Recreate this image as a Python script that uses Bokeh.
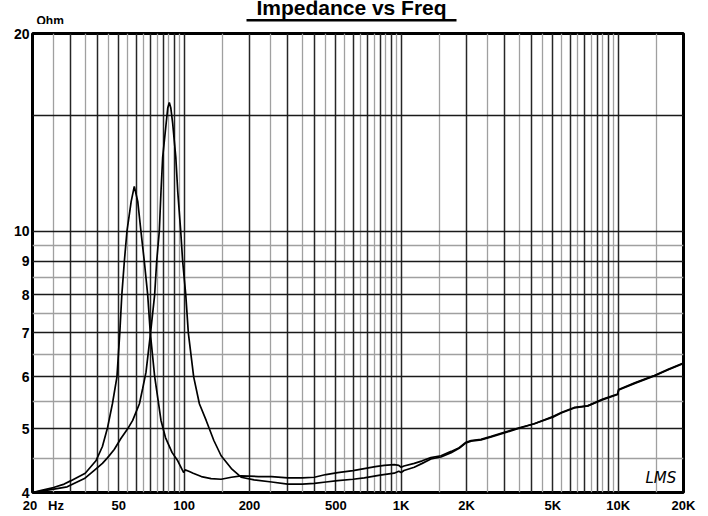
import math
from bokeh.plotting import figure
from bokeh.layouts import column
from bokeh.models import FixedTicker, Grid, Label, BoxAnnotation, Range1d
from bokeh.embed import file_html
from bokeh.resources import INLINE

# ---------------- data ----------------
freq_a = [20, 22, 25, 28, 30.1, 35, 39.2, 42, 44.4, 46.7, 49, 50.5, 51.6, 53, 54.5, 57, 58.9,
          61.1, 63.2, 65.5, 67.9, 69.8, 73.1, 78.2, 82, 88, 93.4, 98, 99.5, 101, 105, 110, 120,
          133, 148, 165, 183, 220, 253, 300, 350, 398, 450, 510, 600, 676, 760, 836, 929, 975,
          1000, 1030, 1149, 1250, 1371, 1525, 1700, 1850, 1990, 2100, 2333, 2600, 2987, 3500,
          4106, 5000, 5500, 6277, 7240, 8500, 9950, 10050, 12000, 14670, 17000, 20000]
z_a = [4.0, 4.03, 4.07, 4.12, 4.17, 4.28, 4.47, 4.7, 5.03, 5.46, 6.0, 7.0, 8.0, 9.0, 10.0, 11.1, 11.7,
       11.1, 10.0, 9.0, 8.0, 7.0, 6.01, 5.15, 4.85, 4.6, 4.47, 4.33, 4.29, 4.33, 4.31, 4.28, 4.23,
       4.2, 4.19, 4.22, 4.24, 4.23, 4.23, 4.21, 4.21, 4.22, 4.26, 4.29, 4.32, 4.35, 4.38, 4.4, 4.41, 4.4,
       4.37, 4.39, 4.43, 4.47, 4.52, 4.55, 4.62, 4.68, 4.77, 4.8, 4.82, 4.87, 4.94, 5.02,
       5.09, 5.22, 5.3, 5.39, 5.42, 5.55, 5.65, 5.74, 5.88, 6.03, 6.16, 6.3]

freq_b = [20, 24.3, 28.9, 34.7, 38.4, 42, 44.4, 47.6, 51, 54.9, 57.9, 62.2, 64.3, 66.7, 70, 73.1,
          74.7, 76.8, 78.2, 79.6, 82.6, 84, 85.4, 86.8, 88.5, 91.5, 93.4, 96.4, 98.4, 101.7, 104.5,
          110.6, 117.5, 126.3, 137, 148, 165, 183, 210, 253, 300, 350, 398, 450, 510, 600, 676, 800,
          929, 975, 1000, 1030, 1149, 1250, 1371, 1525, 1700, 1850, 1990, 2100, 2333, 2600, 2987,
          3500, 4106, 5000, 5500, 6277, 7240, 8500, 9950, 10050, 12000, 14670, 17000, 20000]
z_b = [4.0, 4.04, 4.08, 4.2, 4.32, 4.43, 4.52, 4.65, 4.83, 5.0, 5.15, 5.46, 5.75, 6.1, 7.0, 8.0,
       9.0, 10.0, 11.5, 12.96, 14.6, 15.4, 15.7, 15.4, 14.6, 12.96, 11.5, 10.0, 9.0, 8.0, 7.0,
       6.0, 5.46, 5.15, 4.8, 4.55, 4.35, 4.22, 4.18, 4.15, 4.12, 4.12, 4.13, 4.15, 4.17, 4.19, 4.21, 4.25,
       4.28, 4.31, 4.29, 4.32, 4.37, 4.43, 4.5, 4.53, 4.6, 4.67, 4.76, 4.79, 4.81, 4.86, 4.93,
       5.01, 5.09, 5.21, 5.29, 5.38, 5.42, 5.54, 5.64, 5.73, 5.87, 6.02, 6.15, 6.29]

x_label_ticks = [20, 50, 100, 200, 500, 1000, 2000, 5000, 10000, 20000]
x_label_text = ["\u2007\u2007\u200720\u00a0\u00a0\u00a0Hz", "50", "100", "200", "500",
                "1K", "2K", "5K", "10K", "20K"]
y_label_ticks = [4, 5, 6, 7, 8, 9, 10, 20]
y_label_text = ["4", "5", "6", "7", "8", "9", "10", "20"]

x_major_grid = [m * 10 ** d for d in (1, 2, 3) for m in range(1, 10) if 20 < m * 10 ** d < 20000] + [10000]
x_minor_grid = [(m + 0.5) * 10 ** d for d in (1, 2, 3, 4) for m in range(1, 10) if 20 < (m + 0.5) * 10 ** d < 20000]
y_major_grid = [5, 6, 7, 8, 9, 10, 15]
y_minor_grid = [4.5, 5.5, 6.5, 7.5, 8.5, 9.5]

title_text = "Impedance vs Freq"
unit_text = "Ohm"
logo_text = "LMS"

assert len(freq_a) == len(z_a) and len(freq_b) == len(z_b)

# ---------------- layout ----------------
W = 708
TOP_H = 24
H = 516 - TOP_H
L, R, T, B = 32, 25, 33 - TOP_H, 24          # frame: page x 32..683, page y 33..492
FONT = "Liberation Sans"

# header strip (title + unit); its data units are page pixels
head = figure(width=W, height=TOP_H, x_range=Range1d(0, W), y_range=Range1d(TOP_H, 0),
              title=None, x_axis_location=None, y_axis_location=None,
              output_backend="svg", toolbar_location=None,
              min_border=0, min_border_left=0, min_border_right=0,
              min_border_top=0, min_border_bottom=0)
head.frame_align = False
head.grid.visible = False
head.outline_line_color = None
head.background_fill_color = "white"
head.border_fill_color = "white"
head.add_layout(Label(x=351, y=7, text=title_text, text_align="center",
                      text_baseline="alphabetic", text_font=FONT, text_font_style="bold",
                      text_font_size="21px", text_color="black"))
head.add_layout(BoxAnnotation(left=246, right=456, top=18.5, bottom=21,
                              fill_color="black", fill_alpha=1, line_color=None))
head.add_layout(Label(x=36, y=20.4, text=unit_text, text_align="left",
                      text_baseline="alphabetic", text_font=FONT, text_font_style="bold",
                      text_font_size="12px", text_color="black"))

p = figure(width=W, height=H, x_axis_type="log", y_axis_type="log",
           x_range=(20, 20000), y_range=(4, 20),
           output_backend="svg", toolbar_location=None,
           min_border_left=L, min_border_right=R, min_border_top=T, min_border_bottom=B)
p.frame_align = False
p.background_fill_color = "white"
p.border_fill_color = "white"
p.outline_line_color = "black"
p.outline_line_width = 3

fw, fh = W - L - R, H - T - B


def px2x(px):
    return 20 * 10 ** ((px - L) / fw * 3)


def py2y(py):
    return 4 * 10 ** ((TOP_H + T + fh - py) / fh * math.log10(5))


p.xgrid.grid_line_color = None
p.ygrid.grid_line_color = None
for dim, ticks, col, wid in [(0, x_minor_grid, "#a0a0a0", 1.3), (1, y_minor_grid, "#a0a0a0", 1.3),
                             (0, x_major_grid, "#262626", 1.5), (1, y_major_grid, "#1a1a1a", 1.7)]:
    p.add_layout(Grid(dimension=dim, ticker=FixedTicker(ticks=ticks),
                      grid_line_color=col, grid_line_width=wid))

for ax in (p.xaxis[0], p.yaxis[0]):
    ax.axis_line_color = None
    ax.major_tick_line_color = None
    ax.minor_tick_line_color = None
    ax.major_tick_out = 0
    ax.major_tick_in = 0
    ax.major_label_text_font = FONT
    ax.major_label_text_font_style = "bold"
    ax.major_label_text_color = "black"

p.xaxis.ticker = FixedTicker(ticks=x_label_ticks)
p.xaxis.major_label_overrides = {t: s for t, s in zip(x_label_ticks, x_label_text)}
p.xaxis.major_label_text_font_size = "13px"
p.xaxis.major_label_standoff = 5
p.yaxis.ticker = FixedTicker(ticks=y_label_ticks)
p.yaxis.major_label_overrides = {t: s for t, s in zip(y_label_ticks, y_label_text)}
p.yaxis.major_label_text_font_size = "14px"
p.yaxis.major_label_standoff = 3

p.line(freq_a, z_a, line_color="black", line_width=1.7)
p.line(freq_b, z_b, line_color="black", line_width=1.7)

p.add_layout(Label(x=px2x(645), y=py2y(477), text=logo_text, text_align="left",
                   text_baseline="alphabetic", text_font="DejaVu Sans", text_font_style="italic",
                   text_font_size="15px", text_color="black"))

layout = column(head, p, spacing=0)
open("out.html", "w").write(file_html(layout, INLINE))
